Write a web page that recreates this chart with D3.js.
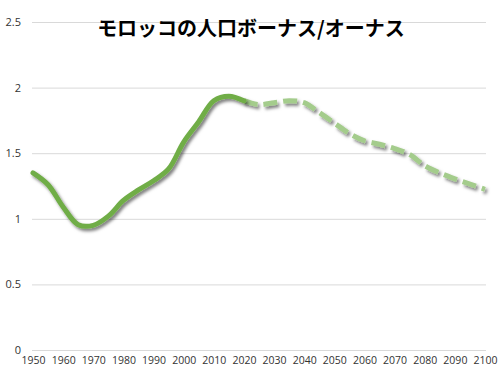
<!DOCTYPE html>
<html><head><meta charset="utf-8">
<script src="https://cdn.jsdelivr.net/npm/d3@7"></script>
<style>
html,body{margin:0;padding:0;background:#fff;}
svg{display:block;}
</style></head>
<body>
<script>
const title = "モロッコの人口ボーナス/オーナス";
const years = [1950,1955,1960,1965,1970,1975,1980,1985,1990,1995,2000,2005,2010,2015,2020,
               2025,2030,2035,2040,2045,2050,2055,2060,2065,2070,2075,2080,2085,2090,2095,2100];
const values = [1.35,1.26,1.09,0.955,0.95,1.02,1.14,1.22,1.29,1.38,1.585,1.74,1.90,1.935,1.90,
                1.87,1.885,1.90,1.885,1.81,1.73,1.65,1.595,1.568,1.535,1.49,1.405,1.35,1.305,1.265,1.225];
const splitYear = 2020;
const xTicks = d3.range(1950, 2101, 10);
const yTicks = [0,0.5,1,1.5,2,2.5];

const W = 504, H = 375;
const svg = d3.select("body").append("svg").attr("width", W).attr("height", H);

const x = d3.scaleLinear().domain([1950,2100]).range([33,485]);
const y = d3.scaleLinear().domain([0,2.5]).range([350,22]);
const font = "'Open Sans', 'Noto Sans', sans-serif";

const defs = svg.append("defs");
const f = defs.append("filter").attr("id","shadow").attr("x","-10%").attr("y","-10%").attr("width","120%").attr("height","130%");
f.append("feDropShadow").attr("dx",2).attr("dy",2.5).attr("stdDeviation",1.4)
  .attr("flood-color","#000").attr("flood-opacity",0.5);

// gridlines
svg.append("g").selectAll("line").data(yTicks).join("line")
  .attr("x1",32).attr("x2",486)
  .attr("y1",d=>y(d)+0.5).attr("y2",d=>y(d)+0.5)
  .attr("stroke","#d9d9d9").attr("stroke-width",1);

// y axis labels
const yAxis = d3.axisLeft(y).tickValues(yTicks).tickSize(0).tickPadding(0).tickFormat(d=>String(d));
const gy = svg.append("g").attr("transform","translate(21,0)").call(yAxis);
gy.select(".domain").remove();
gy.selectAll("text").attr("font-family",font).attr("font-size",11).attr("fill","#333");

// x axis labels
const xAxis = d3.axisBottom(x).tickValues(xTicks).tickSize(0).tickPadding(0).tickFormat(d=>String(d));
const gx = svg.append("g").attr("transform","translate(0,357)").call(xAxis);
gx.select(".domain").remove();
gx.selectAll("text").attr("font-family",font).attr("font-size",10.5).attr("fill","#333");

const data = years.map((yr,i)=>({yr, v: values[i]}));
const line = d3.line().x(d=>x(d.yr)).y(d=>y(d.v)).curve(d3.curveCatmullRom.alpha(0.5));

svg.append("path").datum(data.filter(d=>d.yr>=splitYear))
  .attr("d",line).attr("fill","none")
  .attr("stroke","#a4cc8c").attr("stroke-width",5)
  .attr("stroke-dasharray","14,6")
  .attr("filter","url(#shadow)");

svg.append("path").datum(data.filter(d=>d.yr<=splitYear))
  .attr("d",line).attr("fill","none")
  .attr("stroke","#70ad47").attr("stroke-width",5)
  .attr("stroke-linejoin","round").attr("stroke-linecap","round")
  .attr("filter","url(#shadow)");

svg.append("text").attr("x",251).attr("y",36).attr("text-anchor","middle")
  .attr("font-family","'Noto Sans CJK JP', sans-serif").attr("font-weight","bold")
  .attr("font-size",20).attr("fill","#000").text(title);
</script>
</body></html>
